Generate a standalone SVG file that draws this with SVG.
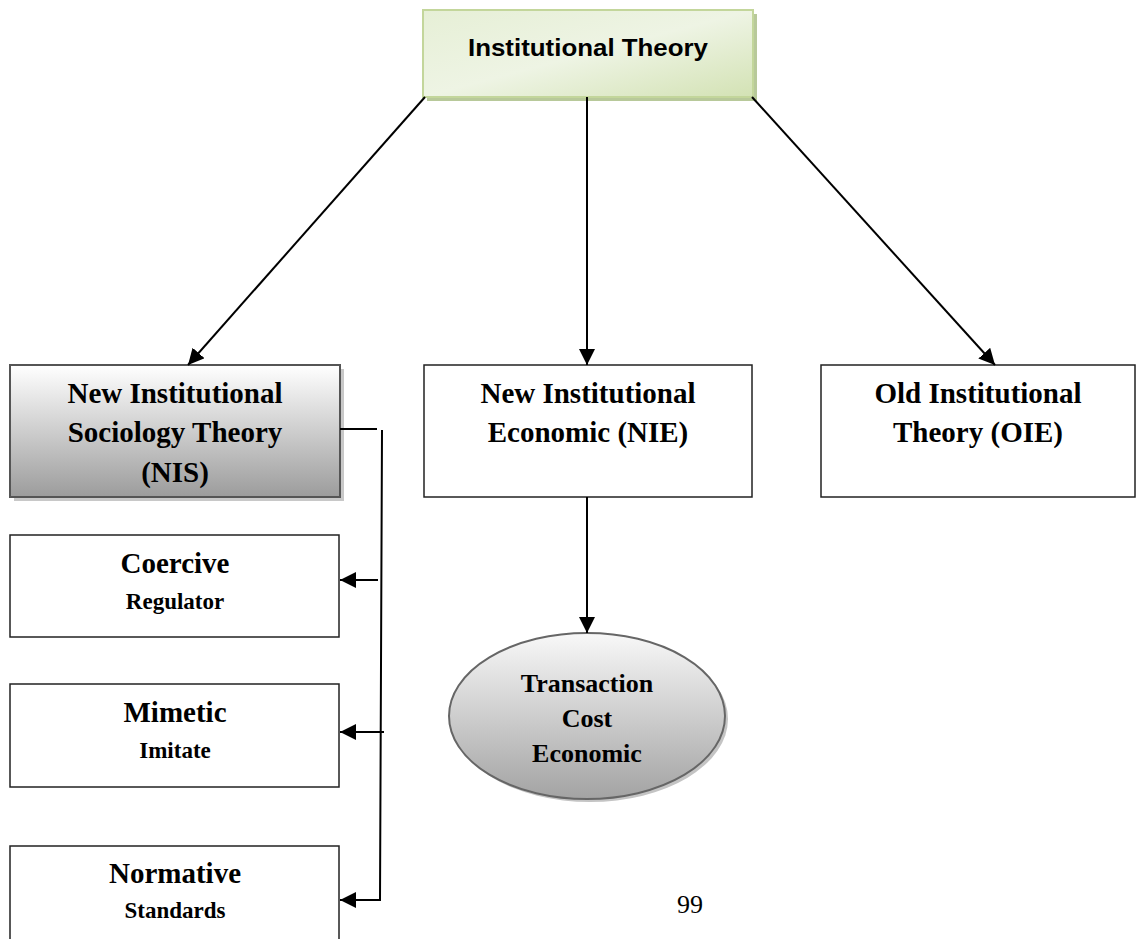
<svg xmlns="http://www.w3.org/2000/svg" width="1140" height="939" viewBox="0 0 1140 939">
  <defs>
    <linearGradient id="greenFill" x1="0" y1="0" x2="1" y2="1">
      <stop offset="0" stop-color="#e6efd6"/>
      <stop offset="0.5" stop-color="#eef4e4"/>
      <stop offset="1" stop-color="#d3e2b4"/>
    </linearGradient>
    <linearGradient id="grayFill" x1="0" y1="0" x2="0" y2="1">
      <stop offset="0" stop-color="#ffffff"/>
      <stop offset="1" stop-color="#9c9c9c"/>
    </linearGradient>
    <linearGradient id="ovalFill" x1="0" y1="0" x2="0" y2="1">
      <stop offset="0" stop-color="#f8f8f8"/>
      <stop offset="1" stop-color="#a3a3a3"/>
    </linearGradient>
    <marker id="arrow" viewBox="0 0 10 10" refX="10" refY="5" markerWidth="16" markerHeight="16" markerUnits="userSpaceOnUse" orient="auto">
      <path d="M0,0 L10,5 L0,10 Z" fill="#000"/>
    </marker>
  </defs>
  <style>
    .box { fill: #fff; stroke: #222; stroke-width: 1.5; }
    .shadow { fill: #c8c8c8; }
    .ser { font-family: "Liberation Serif", "Times New Roman", serif; font-weight: bold; fill: #000; text-anchor: middle; }
    .big { font-size: 29px; }
    .small { font-size: 23px; }
    .oval { font-size: 26px; }
    .link { fill: none; stroke: #000; stroke-width: 2; }
  </style>

  <rect width="1140" height="939" fill="#fff"/>

  <!-- top node -->
  <g id="institutional-theory">
    <rect x="427" y="14" width="330" height="87" fill="#b8c99a"/>
    <rect x="423" y="10" width="330" height="87" fill="url(#greenFill)" stroke="#c3d69b" stroke-width="2"/>
    <text x="588" y="56" font-family="'Liberation Sans', Arial, sans-serif" font-weight="bold" font-size="24" text-anchor="middle" textLength="240" lengthAdjust="spacingAndGlyphs">Institutional Theory</text>
  </g>

  <!-- second row -->
  <g id="nis">
    <rect class="shadow" x="14" y="369" width="330" height="132"/>
    <rect x="10" y="365" width="330" height="132" fill="url(#grayFill)" stroke="#555" stroke-width="2"/>
    <text class="ser big" x="175" y="403">New Institutional</text>
    <text class="ser big" x="175" y="442">Sociology Theory</text>
    <text class="ser big" x="175" y="482">(NIS)</text>
  </g>
  <g id="nie">
    <rect class="box" x="424" y="365" width="328" height="132"/>
    <text class="ser big" x="588" y="403">New Institutional</text>
    <text class="ser big" x="588" y="442">Economic (NIE)</text>
  </g>
  <g id="oie">
    <rect class="box" x="821" y="365" width="314" height="132"/>
    <text class="ser big" x="978" y="403">Old Institutional</text>
    <text class="ser big" x="978" y="442">Theory (OIE)</text>
  </g>

  <!-- NIS branches -->
  <g id="coercive">
    <rect class="box" x="10" y="535" width="329" height="102"/>
    <text class="ser big" x="175" y="573">Coercive</text>
    <text class="ser small" x="175" y="609">Regulator</text>
  </g>
  <g id="mimetic">
    <rect class="box" x="10" y="684" width="329" height="103"/>
    <text class="ser big" x="175" y="722">Mimetic</text>
    <text class="ser small" x="175" y="758">Imitate</text>
  </g>
  <g id="normative">
    <rect class="box" x="10" y="846" width="329" height="100"/>
    <text class="ser big" x="175" y="883">Normative</text>
    <text class="ser small" x="175" y="918">Standards</text>
  </g>

  <!-- NIE outcome -->
  <g id="transaction-cost">
    <ellipse cx="590" cy="719" rx="138" ry="83" fill="#c4c4c4"/>
    <ellipse cx="587" cy="716" rx="138" ry="83" fill="url(#ovalFill)" stroke="#666" stroke-width="2"/>
    <text class="ser oval" x="587" y="692">Transaction</text>
    <text class="ser oval" x="587" y="727">Cost</text>
    <text class="ser oval" x="587" y="762">Economic</text>
  </g>

  <!-- page number -->
  <text x="690" y="913" font-family="'Liberation Serif', 'Times New Roman', serif" font-size="26" text-anchor="middle">99</text>

  <!-- connectors -->
  <g id="connectors">
    <line class="link" x1="425" y1="97" x2="188" y2="365" marker-end="url(#arrow)"/>
    <line class="link" x1="587" y1="97" x2="587" y2="365" marker-end="url(#arrow)"/>
    <line class="link" x1="752" y1="97" x2="995" y2="365" marker-end="url(#arrow)"/>
    <line class="link" x1="587" y1="497" x2="587" y2="633" marker-end="url(#arrow)"/>
    <line class="link" x1="340" y1="429" x2="377" y2="429"/>
    <polyline class="link" points="382,430 380,900 340,900" marker-end="url(#arrow)"/>
    <line class="link" x1="378" y1="580" x2="340" y2="580" marker-end="url(#arrow)"/>
    <line class="link" x1="384" y1="732" x2="340" y2="732" marker-end="url(#arrow)"/>
  </g>
</svg>
